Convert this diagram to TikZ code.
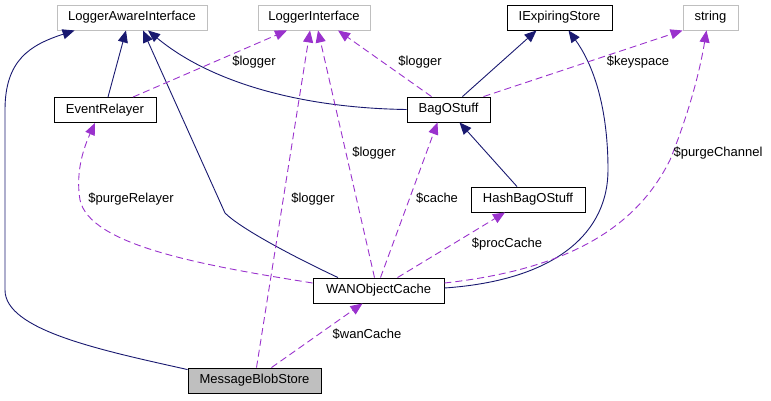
\documentclass[tikz,border=0pt]{standalone}
\usepackage{fontspec}
\setmainfont{Liberation Sans}
\usetikzlibrary{arrows.meta}
\definecolor{inhblue}{HTML}{191970}
\definecolor{usepurple}{HTML}{9A32CD}
\definecolor{extgray}{HTML}{BFBFBF}
\begin{document}
\begin{tikzpicture}[x=1pt, y=-1pt, >={Triangle[length=12pt,width=10pt]},
    cls/.style={draw=black, line width=0.9pt, minimum height=25pt, inner sep=0pt, font=\fontsize{13}{15}\selectfont},
    ext/.style={cls, draw=extgray},
    isa/.style={->, draw=inhblue, fill=none, line width=0.9pt},
    hasa/.style={->, draw=usepurple, line width=0.9pt, dash pattern=on 7pt off 4pt},
    lbl/.style={inner sep=0pt, font=\fontsize{13}{15}\selectfont}]
    \useasboundingbox (0,0) rectangle (771,400);
    % classes
    \node[ext, minimum width=150pt] (lai) at (132,17.5) {LoggerAwareInterface};
    \node[ext, minimum width=112pt] (li) at (314,17.5) {LoggerInterface};
    \node[cls, minimum width=105pt] (ies) at (559.5,17.5) {IExpiringStore};
    \node[ext, minimum width=55pt] (str) at (710.5,17.5) {string};
    \node[cls, minimum width=102pt] (er) at (105,110) {EventRelayer};
    \node[cls, minimum width=83pt] (bag) at (448.5,109.5) {BagOStuff};
    \node[cls, minimum width=114pt] (hash) at (528,199.5) {HashBagOStuff};
    \node[cls, minimum width=131pt] (wan) at (378.5,290.5) {WANObjectCache};
    \node[cls, minimum width=133pt, fill=extgray] (mbs) at (254.5,380.5) {MessageBlobStore};
    % inheritance
    \draw[isa] ([xshift=3pt]er.north) -- ([xshift=-6pt]lai.south);
    \draw[isa] ([xshift=-40.5pt]wan.north) .. controls (290,255) and (240,228) .. (225,213) -- ([xshift=11pt]lai.south);
    \draw[isa] (bag.west) .. controls (300,108) and (210,82) .. ([xshift=16pt]lai.south);
    \draw[isa] ([yshift=-2pt]mbs.north west) .. controls (100,350) and (5,330) .. (5,290) -- (5,110) .. controls (5,60) and (30,45) .. ([xshift=18pt]lai.south west);
    \draw[isa] ([xshift=14pt]bag.north) -- ([xshift=-23pt]ies.south);
    \draw[isa] ([xshift=-11pt]hash.north) -- ([xshift=11pt]bag.south);
    \draw[isa] ([yshift=2.5pt]wan.east) .. controls (560,280) and (608,230) .. (608,170) .. controls (608,100) and (590,60) .. ([xshift=9pt]ies.south);
    % members
    \draw[hasa] ([xshift=28pt]er.north) -- ([xshift=-27pt]li.south);
    \draw[hasa] ([xshift=2pt]mbs.north) -- ([xshift=-4pt]li.south);
    \draw[hasa] ([xshift=-4pt]wan.north) -- ([xshift=4pt]li.south);
    \draw[hasa] ([xshift=-17pt]bag.north) -- ([xshift=24pt]li.south);
    \draw[hasa] ([xshift=35pt]bag.north) -- (str.south west);
    \draw[hasa] ([xshift=2pt]wan.north) -- ([xshift=-11pt]bag.south);
    \draw[hasa] ([xshift=19pt]wan.north) -- ([xshift=-23pt]hash.south);
    \draw[hasa] ([yshift=7.5pt]wan.east) .. controls (580,268) and (640,220) .. (670,160) .. controls (690,110) and (700,70) .. ([xshift=-4pt]str.south);
    \draw[hasa] ([yshift=7.5pt]wan.west) .. controls (200,265) and (90,245) .. (80,200) .. controls (75,170) and (85,145) .. ([xshift=-10pt]er.south);
    \draw[hasa] ([xshift=17pt]mbs.north) -- ([xshift=-16pt]wan.south);
    % labels
    \node[lbl] (l-er) at (254,62) {\$logger};
    \node[lbl] (l-bag) at (420,62) {\$logger};
    \node[lbl] (l-key) at (638,62) {\$keyspace};
    \node[lbl] (l-wan) at (374,153) {\$logger};
    \node[lbl] (l-mbs) at (313,199) {\$logger};
    \node[lbl] (l-cache) at (437,198) {\$cache};
    \node[lbl] (l-proc) at (507,244) {\$procCache};
    \node[lbl] (l-chan) at (718,153) {\$purgeChannel};
    \node[lbl] (l-rel) at (131,199) {\$purgeRelayer};
    \node[lbl] (l-wc) at (367,334) {\$wanCache};
\end{tikzpicture}
\end{document}
